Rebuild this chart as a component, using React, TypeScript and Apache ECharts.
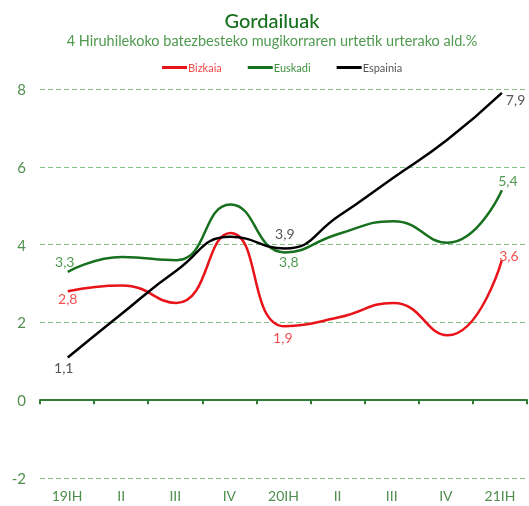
import React, { useEffect, useRef } from "react";
import * as echarts from "echarts";

const categories = ["19IH", "II", "III", "IV", "20IH", "II", "III", "IV", "21IH"];
const bizkaia = [2.8, 2.95, 2.5, 4.3, 1.9, 2.13, 2.5, 1.67, 3.6];
const euskadi = [3.3, 3.68, 3.6, 5.03, 3.8, 4.28, 4.6, 4.05, 5.4];
const espainia = [1.1, 2.23, 3.33, 4.2, 3.9, 4.74, 5.72, 6.7, 7.9];
const yTicks = { min: -2, max: 8, interval: 2 };
const labelIdx = [0, 4, 8];

const FONT = "Lato, 'Noto Sans', sans-serif";

type LabelPos = { position: string; distance: number; offset: number[] };

function mkSeries(name: string, data: number[], color: string, labelColor: string, pos: LabelPos[]) {
  return {
    name,
    type: "line",
    xAxisIndex: 2,
    yAxisIndex: 1,
    smooth: 0.5,
    symbol: "circle",
    symbolSize: 0,
    showSymbol: true,
    lineStyle: { color, width: 2.5 },
    itemStyle: { color },
    data: data.map((v, i) => {
      const li = labelIdx.indexOf(i);
      if (li < 0) return v;
      return {
        value: v,
        label: {
          show: true,
          position: pos[li].position,
          distance: pos[li].distance,
          offset: pos[li].offset,
          color: labelColor,
          fontFamily: FONT,
          fontSize: 14,
          formatter: (p: any) => String(p.value).replace(".", ","),
        },
      };
    }),
  };
}

export default function App() {
  const ref = useRef<HTMLDivElement>(null);
  useEffect(() => {
    const chart = echarts.init(ref.current!, undefined, { renderer: "svg" });
    chart.setOption({
      animation: false,
      title: {
        text: "Gordailuak",
        subtext: "4 Hiruhilekoko batezbesteko mugikorraren urtetik urterako ald.%",
        left: 267,
        textAlign: "center",
        top: 5,
        itemGap: 3,
        textStyle: { color: "#17701d", fontFamily: FONT, fontSize: 20, fontWeight: 500 },
        subtextStyle: { color: "#4f9a4f", fontFamily: FONT, fontSize: 14.5 },
      },
      legend: {
        top: 57,
        left: 157,
        itemWidth: 25,
        itemHeight: 3,
        itemGap: 26,
        icon: "rect",
        textStyle: { fontFamily: FONT, fontSize: 11, padding: [0, 0, 0, -4] },
        data: [
          { name: "Bizkaia", textStyle: { color: "#f04a4a" } },
          { name: "Euskadi", textStyle: { color: "#3f8f3f" } },
          { name: "Espainia", textStyle: { color: "#555555" } },
        ],
      },
      grid: [
        { left: 40, right: 2, top: 89, bottom: 28, containLabel: false },
        { left: 40.6, right: -5.4, top: 89, bottom: 28, containLabel: false },
      ],
      xAxis: [
        {
          type: "category",
          gridIndex: 0,
          data: categories,
          position: "bottom",
          boundaryGap: true,
          axisLine: { show: false, onZero: false },
          axisTick: { show: false },
          axisLabel: { color: "#4f8f4f", fontFamily: FONT, fontSize: 14, margin: 10 },
        },
        {
          type: "category",
          gridIndex: 0,
          data: categories,
          position: "top",
          boundaryGap: true,
          axisLine: { show: true, onZero: true, lineStyle: { color: "#2e7d32", width: 2 } },
          axisTick: { show: true, inside: true, length: 4, lineStyle: { color: "#2e7d32", width: 2 } },
          axisLabel: { show: false },
        },
        {
          type: "category",
          gridIndex: 1,
          data: categories,
          boundaryGap: true,
          show: false,
        },
      ],
      yAxis: [
        {
          type: "value",
          gridIndex: 0,
          min: yTicks.min,
          max: yTicks.max,
          interval: yTicks.interval,
          axisLine: { show: false },
          axisTick: { show: false },
          axisLabel: { color: "#4f8f4f", fontFamily: FONT, fontSize: 15, margin: 14 },
          splitLine: { lineStyle: { color: "#86c286", type: [5, 3], width: 1 } },
        },
        {
          type: "value",
          gridIndex: 1,
          min: yTicks.min,
          max: yTicks.max,
          interval: yTicks.interval,
          show: false,
          splitLine: { show: false },
        },
      ],
      series: [
        mkSeries("Bizkaia", bizkaia, "#e8141a", "#f05050", [
          { position: "bottom", distance: 0, offset: [0, 0] },
          { position: "bottom", distance: 4, offset: [-2, 0] },
          { position: "top", distance: 5, offset: [7, 7] },
        ]),
        mkSeries("Euskadi", euskadi, "#17701d", "#4f9a4f", [
          { position: "top", distance: 3, offset: [-3, 0] },
          { position: "bottom", distance: 2, offset: [4, 0] },
          { position: "top", distance: 3, offset: [6, 0] },
        ]),
        mkSeries("Espainia", espainia, "#000000", "#555555", [
          { position: "bottom", distance: 3, offset: [-4, 0] },
          { position: "top", distance: 8, offset: [0, 0] },
          { position: "right", distance: 4, offset: [0, 7] },
        ]),
      ],
    });
    return () => chart.dispose();
  }, []);
  return (
    <div
      ref={ref}
      style={{ position: "fixed", left: 0, top: 0, width: 529, height: 506 }}
    />
  );
}
